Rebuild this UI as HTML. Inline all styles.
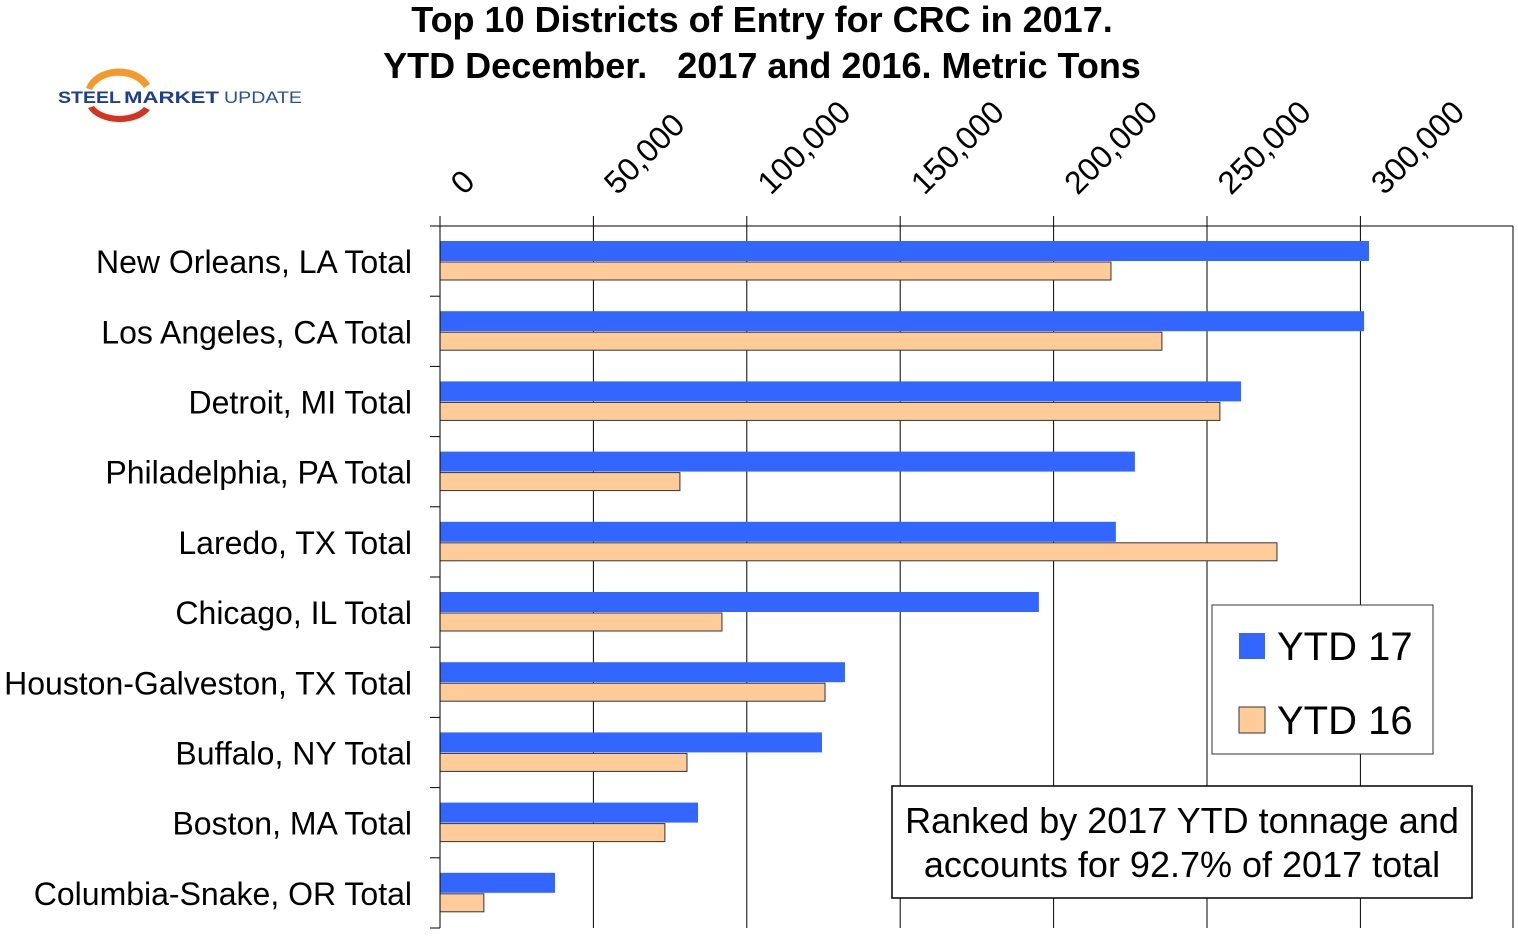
<!DOCTYPE html>
<html><head><meta charset="utf-8"><style>
body{margin:0;background:#fff;width:1518px;height:934px;overflow:hidden;font-family:"Liberation Sans",Arial,sans-serif}
</style></head><body>
<svg id="chart" width="1518" height="934" xmlns="http://www.w3.org/2000/svg" font-family="Liberation Sans, Arial, sans-serif">
<text x="762" y="32" text-anchor="middle" font-size="36" font-weight="bold">Top 10 Districts of Entry for CRC in 2017.</text>
<text x="762" y="78" text-anchor="middle" font-size="36" font-weight="bold" style="white-space:pre">YTD December.   2017 and 2016. Metric Tons</text>
<g>
<path d="M86,88 A34,26 0 0 1 150,84 L144,88 A28,21 0 0 0 92,90 Z" fill="#f39a2a"/>
<path d="M88,108 A34,22 0 0 0 150,110 L144,107 A28,17 0 0 1 94,106 Z" fill="#d4331f"/>
<text x="58" y="103" font-size="17" font-weight="bold" fill="#1d3f8f" textLength="63" lengthAdjust="spacingAndGlyphs">STEEL</text>
<text x="124" y="103" font-size="17" font-weight="bold" fill="#1d3f8f" textLength="95" lengthAdjust="spacingAndGlyphs">MARKET</text>
<text x="224" y="103" font-size="17" fill="#2a4fa0" textLength="78" lengthAdjust="spacingAndGlyphs">UPDATE</text>
</g>
<g id="grid"></g><g id="bars"></g><g id="axes"></g>
<g>
<rect x="1212" y="605" width="221" height="149" fill="#fff" stroke="#333" stroke-width="1"/>
<rect x="1239" y="633" width="26" height="26" fill="#3366ff"/>
<text x="1277" y="660" font-size="40">YTD 17</text>
<rect x="1239" y="707" width="26" height="26" fill="#ffcc99" stroke="#333"/>
<text x="1277" y="734" font-size="40">YTD 16</text>
</g>
<g>
<rect x="892" y="786" width="580" height="112" fill="#fff" stroke="#000" stroke-width="1.5"/>
<text x="1182" y="833" text-anchor="middle" font-size="36">Ranked by 2017 YTD tonnage and</text>
<text x="1182" y="877" text-anchor="middle" font-size="36">accounts for 92.7% of 2017 total</text>
</g>
</svg>
<script>
const categories=["New Orleans, LA Total","Los Angeles, CA Total","Detroit, MI Total","Philadelphia, PA Total","Laredo, TX Total","Chicago, IL Total","Houston-Galveston, TX Total","Buffalo, NY Total","Boston, MA Total","Columbia-Snake, OR Total"];
const ytd17=[302800,301200,261100,226500,220300,195200,132000,124500,84100,37500];
const ytd16=[218700,235300,254200,78200,272800,91900,125500,80500,73300,14300];
const ticks=[0,50000,100000,150000,200000,250000,300000];
const tickLabels=["0","50,000","100,000","150,000","200,000","250,000","300,000"];
const NS="http://www.w3.org/2000/svg";
const L=440,R=1513,T=226,B=928,PX=153.4/50000;
const x=v=>L+v*PX;
const band=(B-T)/categories.length;
const y=i=>T+i*band;
function mk(p,tag,a){const e=document.createElementNS(NS,tag);for(const k in a)e.setAttribute(k,a[k]);p.appendChild(e);return e;}
const grid=document.getElementById('grid'),bars=document.getElementById('bars'),axes=document.getElementById('axes');
ticks.forEach((t,i)=>{
 const g=mk(grid,'line',{x1:x(t),x2:x(t),y1:T-10,y2:B,stroke:'#000','stroke-width':1});
 
 
 const tx=x(t)+24,ty=T-30;
 const lb=mk(axes,'text',{x:tx,y:ty,'font-size':32,transform:`rotate(-45 ${tx} ${ty})`});
 lb.textContent=tickLabels[i];
 
 
});
mk(axes,'line',{x1:L,x2:R,y1:T,y2:T,stroke:'#000'});
mk(axes,'line',{x1:R,x2:R,y1:T,y2:B,stroke:'#000'});
mk(axes,'line',{x1:L,x2:L,y1:T-10,y2:B,stroke:'#000'});
categories.forEach((c,i)=>{
 const y0=y(i);
 const b1=mk(bars,'rect',{x:L,y:y0+15,width:x(ytd17[i])-L,height:20,fill:'#3366ff'});
 
 
 const b2=mk(bars,'rect',{x:L,y:y0+36,width:x(ytd16[i])-L,height:18,fill:'#ffcc99',stroke:'#333','stroke-width':1});
 
 
 const t=mk(axes,'text',{x:412,y:y0+band/2+12,'text-anchor':'end','font-size':32});
 t.textContent=c;
 
 
 mk(axes,'line',{x1:430,x2:L,y1:y0+band,y2:y0+band,stroke:'#000'});
});
mk(axes,'line',{x1:430,x2:L,y1:T,y2:T,stroke:'#000'});
</script>
</body></html>
